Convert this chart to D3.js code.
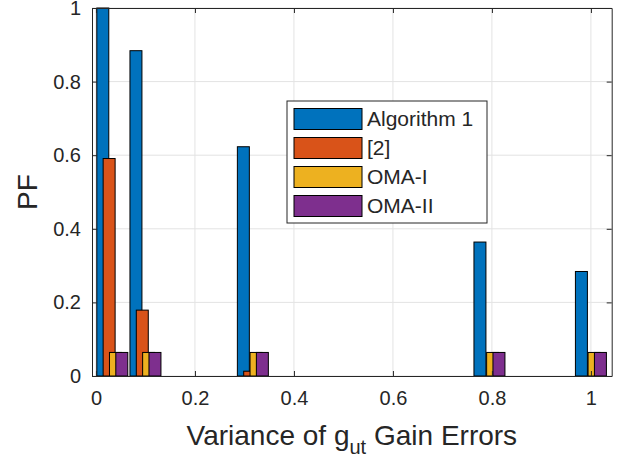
<!DOCTYPE html>
<html>
<head>
<meta charset="utf-8">
<script src="https://cdn.jsdelivr.net/npm/d3@7"></script>
<style>
  body { margin: 0; background: #fff; }
  text { font-family: "Liberation Sans", Arial, sans-serif; fill: #262626; }
</style>
</head>
<body>
<div id="chart"></div>
<script>
// variance values (group positions on x)
var variances = [0.033, 0.1, 0.317, 0.795, 1.0];
var seriesNames = ["Algorithm 1", "[2]", "OMA-I", "OMA-II"];
var alg1 = [1.0, 0.884, 0.623, 0.364, 0.284];
var ref2 = [0.591, 0.179, 0.013, 0, 0];
var omaI = [0.064, 0.064, 0.064, 0.064, 0.064];
var omaII = [0.064, 0.064, 0.064, 0.064, 0.064];
var xTicks = [0, 0.2, 0.4, 0.6, 0.8, 1];
var yTicks = [0, 0.2, 0.4, 0.6, 0.8, 1];
var colors = ["#0072BD", "#D95319", "#EDB120", "#7E2F8E"];

var width = 623, height = 461;
var margin = { left: 92, right: 11.3, top: 8, bottom: 85 };
var figw = width - margin.left - margin.right,
    figh = height - margin.top - margin.bottom;

var allSeries = [alg1, ref2, omaI, omaII];

var xScale = d3.scaleLinear().domain([-0.008, 1.042]).range([0, figw]);
var yScale = d3.scaleLinear().domain([0, 1]).range([figh, 0]);

// bar width and offset inside a group (data units)
var barW = 0.0242, step = 0.0128;

var svg = d3.select("#chart").append("svg")
  .attr("width", width)
  .attr("height", height);

var g = svg.append("g")
  .attr("transform", "translate(" + margin.left + "," + margin.top + ")");

// grid
g.append("g").selectAll("line").data(xTicks).enter().append("line")
  .attr("x1", function(d){ return xScale(d); })
  .attr("x2", function(d){ return xScale(d); })
  .attr("y1", 0).attr("y2", figh)
  .attr("stroke", "#e3e3e3").attr("stroke-width", 1);
g.append("g").selectAll("line").data(yTicks).enter().append("line")
  .attr("y1", function(d){ return yScale(d); })
  .attr("y2", function(d){ return yScale(d); })
  .attr("x1", 0).attr("x2", figw)
  .attr("stroke", "#e3e3e3").attr("stroke-width", 1);

// bars, one series after the other so later ones sit on top
allSeries.forEach(function(vals, si){
  g.append("g").selectAll("rect")
    .data(vals.map(function(v, i){ return { x: variances[i], y: v }; })
              .filter(function(d){ return d.y > 0; }))
    .enter().append("rect")
    .attr("x", function(d){ return xScale(d.x + (si - 1.5) * step - barW / 2); })
    .attr("width", xScale(barW) - xScale(0))
    .attr("y", function(d){ return yScale(d.y); })
    .attr("height", function(d){ return figh - yScale(d.y); })
    .attr("fill", colors[si])
    .attr("stroke", "#000")
    .attr("stroke-width", 1);
});

// axes, ticks inside
var xAxis = g.append("g")
  .attr("transform", "translate(0," + figh + ")")
  .call(d3.axisBottom(xScale).tickValues(xTicks).tickSizeInner(-5).tickSizeOuter(0)
    .tickFormat(function(d){ return d; }).tickPadding(15));
var yAxis = g.append("g")
  .call(d3.axisLeft(yScale).tickValues(yTicks).tickSizeInner(-5).tickSizeOuter(0)
    .tickFormat(function(d){ return d; }).tickPadding(11));
var xTop = g.append("g")
  .call(d3.axisTop(xScale).tickValues(xTicks).tickSizeInner(-5).tickSizeOuter(0).tickFormat(""));
var yRight = g.append("g")
  .attr("transform", "translate(" + figw + ",0)")
  .call(d3.axisRight(yScale).tickValues(yTicks).tickSizeInner(-5).tickSizeOuter(0).tickFormat(""));

[xAxis, yAxis, xTop, yRight].forEach(function(a){
  a.select(".domain").attr("stroke", "#262626");
  a.selectAll(".tick line").attr("stroke", "#262626");
  a.selectAll("text").style("font-size", "20px").attr("fill", "#262626")
    .style("font-family", "'Liberation Sans', Arial, sans-serif");
});

// axis labels
var xl = svg.append("text")
  .attr("x", margin.left + figw / 2)
  .attr("y", 445)
  .attr("text-anchor", "middle")
  .style("font-size", "28px");
xl.append("tspan").text("Variance of g");
xl.append("tspan").attr("dy", 9).style("font-size", "20px").text("ut");
xl.append("tspan").attr("dy", -9).text(" Gain Errors");

svg.append("text")
  .attr("transform", "translate(37,192) rotate(-90)")
  .attr("text-anchor", "middle")
  .style("font-size", "28px")
  .text("PF");

// legend
var legend = svg.append("g").attr("transform", "translate(287,101)");
legend.append("rect")
  .attr("width", 200).attr("height", 122)
  .attr("fill", "#fff").attr("stroke", "#262626").attr("stroke-width", 1);
var items = legend.selectAll(".item").data(seriesNames).enter().append("g")
  .attr("class", "item")
  .attr("transform", function(d, i){ return "translate(0," + (18 + i * 29) + ")"; });
items.append("rect")
  .attr("x", 7).attr("y", -10.5).attr("width", 68).attr("height", 21)
  .attr("fill", function(d, i){ return colors[i]; })
  .attr("stroke", "#000").attr("stroke-width", 1);
items.append("text")
  .attr("x", 80).attr("dy", "0.35em")
  .style("font-size", "21px")
  .text(function(d){ return d; });
</script>
</body>
</html>
